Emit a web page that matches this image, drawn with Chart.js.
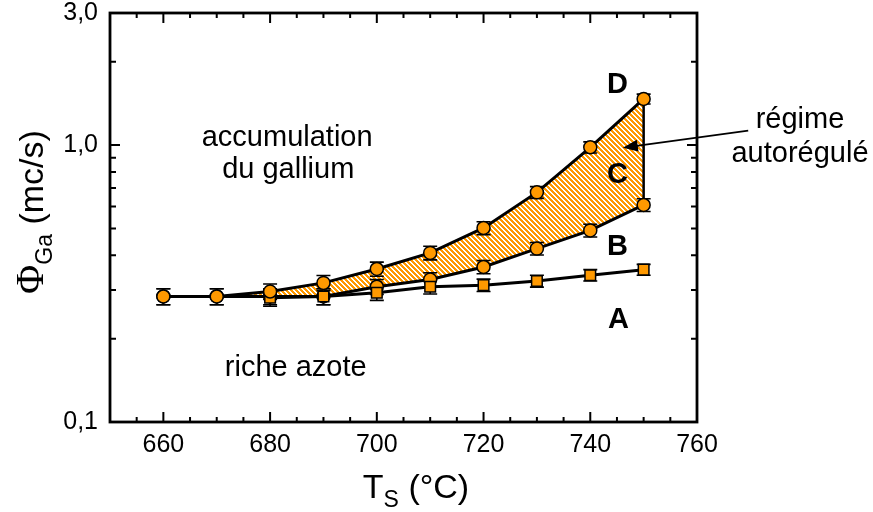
<!DOCTYPE html>
<html>
<head>
<meta charset="utf-8">
<script src="https://cdn.jsdelivr.net/npm/chart.js@4.4.0/dist/chart.umd.min.js"></script>
<style>
  html, body { margin: 0; padding: 0; background: #fff; }
  #wrap { width: 873px; height: 512px; }
</style>
</head>
<body>
<div id="wrap"><canvas id="fluxChart"></canvas></div>
<script>
// --- data ---
const TEMPS   = [660, 670, 680, 690, 700, 710, 720, 730, 740, 750];
const FLUX_D  = [0.284, 0.284, 0.296, 0.318, 0.357, 0.408, 0.502, 0.675, 0.982, 1.468];
const FLUX_B  = [0.284, 0.284, 0.284, 0.284, 0.308, 0.327, 0.363, 0.423, 0.492, 0.608];
const TEMPS_A = [680, 690, 700, 710, 720, 730, 740, 750];
const FLUX_A  = [0.281, 0.284, 0.293, 0.308, 0.312, 0.323, 0.339, 0.355];
// error bar half-heights (mc/s)
const ERR_D = [0.019, 0.019, 0.019, 0.02, 0.021, 0.023, 0.027, 0.033, 0.045, 0.06];
const ERR_B = [0.019, 0.019, 0.019, 0.019, 0.019, 0.019, 0.02, 0.022, 0.026, 0.032];
const ERR_A = [0.019, 0.019, 0.018, 0.018, 0.016, 0.016, 0.016, 0.016];

// --- axes ---
const X_LABELS = [660, 680, 700, 720, 740, 760];
const X_MINOR_STEP = 5;
const Y_TICKS = [0.1, 0.2, 0.3, 0.4, 0.5, 0.6, 0.7, 0.8, 0.9, 1, 2, 3];
const Y_LABEL_VALUES = [0.1, 1, 3];
const Y_LABELS = ['0,1', '1,0', '3,0'];

// --- annotations (data coordinates) ---
const REGION_TEXT = [
    { text: 'accumulation', x: 683.2, y: 0.99 },
    { text: 'du gallium', x: 683.4, y: 0.763 },
    { text: 'riche azote', x: 684.8, y: 0.146 },
    { text: 'régime', x: 779.3, y: 1.157 },
    { text: 'autorégulé', x: 779.3, y: 0.872 }
];
const CURVE_LETTERS = [
    { text: 'D', x: 745.1, y: 1.647 },
    { text: 'C', x: 745.1, y: 0.782 },
    { text: 'B', x: 745.1, y: 0.427 },
    { text: 'A', x: 745.3, y: 0.234 }
];
const ARROW = { from: [769.6, 1.128], to: [746.1, 0.979] };

const ORANGE = '#FF9900';
const FONT = "'Liberation Sans', Arial, sans-serif";

function zip(xs, ys) {
    return xs.map((x, i) => ({ x, y: ys[i] }));
}

// diagonal orange/white stripes
function makeHatch() {
    const n = 10, period = 5;
    const c = document.createElement('canvas');
    c.width = n; c.height = n;
    const g = c.getContext('2d');
    const img = g.createImageData(n, n);
    for (let y = 0; y < n; y++) {
        for (let x = 0; x < n; x++) {
            const k = (y * n + x) * 4;
            const on = ((x - y + 2 * n) % period) < 3;
            img.data[k] = 255;
            img.data[k + 1] = on ? 153 : 255;
            img.data[k + 2] = on ? 0 : 255;
            img.data[k + 3] = 255;
        }
    }
    g.putImageData(img, 0, 0);
    return g.createPattern(c, 'repeat');
}

const errorBars = {
    id: 'errorBars',
    beforeDatasetsDraw(chart) {
        const { ctx, scales: { x, y } } = chart;
        ctx.save();
        // closing edge of the self-regulated region
        ctx.strokeStyle = '#000';
        ctx.lineWidth = 2.5;
        const last = TEMPS.length - 1;
        ctx.beginPath();
        ctx.moveTo(x.getPixelForValue(TEMPS[last]), y.getPixelForValue(FLUX_D[last]));
        ctx.lineTo(x.getPixelForValue(TEMPS[last]), y.getPixelForValue(FLUX_B[last]));
        ctx.stroke();

        ctx.lineWidth = 1.6;
        const sets = [[TEMPS, FLUX_D, ERR_D], [TEMPS, FLUX_B, ERR_B], [TEMPS_A, FLUX_A, ERR_A]];
        sets.forEach(([xs, ys, es]) => {
            xs.forEach((t, i) => {
                const px = x.getPixelForValue(t);
                const lo = y.getPixelForValue(ys[i] - es[i]);
                const hi = y.getPixelForValue(ys[i] + es[i]);
                ctx.beginPath();
                ctx.moveTo(px, lo); ctx.lineTo(px, hi);
                ctx.moveTo(px - 7, lo); ctx.lineTo(px + 7, lo);
                ctx.moveTo(px - 7, hi); ctx.lineTo(px + 7, hi);
                ctx.stroke();
            });
        });
        ctx.restore();
    }
};

const frame = {
    id: 'frame',
    afterDraw(chart) {
        const { ctx, chartArea: a, scales: { x, y } } = chart;
        ctx.save();
        ctx.strokeStyle = '#000';

        // inward tick marks on all four sides
        ctx.lineWidth = 2;
        ctx.beginPath();
        for (let v = x.min; v <= x.max; v += X_MINOR_STEP) {
            const px = x.getPixelForValue(v);
            const len = X_LABELS.includes(v) ? 10 : 5;
            ctx.moveTo(px, a.bottom); ctx.lineTo(px, a.bottom - len);
            ctx.moveTo(px, a.top); ctx.lineTo(px, a.top + len);
        }
        Y_TICKS.forEach(v => {
            const py = y.getPixelForValue(v);
            const len = Y_LABEL_VALUES.includes(v) ? 10 : 6;
            ctx.moveTo(a.left, py); ctx.lineTo(a.left + len, py);
            ctx.moveTo(a.right, py); ctx.lineTo(a.right - len, py);
        });
        ctx.stroke();

        ctx.lineWidth = 2.8;
        ctx.strokeRect(a.left, a.top, a.right - a.left, a.bottom - a.top);

        // region labels
        ctx.fillStyle = '#000';
        ctx.textAlign = 'center';
        ctx.textBaseline = 'alphabetic';
        ctx.font = '29px ' + FONT;
        REGION_TEXT.forEach(t => ctx.fillText(t.text, x.getPixelForValue(t.x), y.getPixelForValue(t.y)));

        ctx.textBaseline = 'middle';
        ctx.font = 'bold 29px ' + FONT;
        CURVE_LETTERS.forEach(t => ctx.fillText(t.text, x.getPixelForValue(t.x), y.getPixelForValue(t.y)));

        // arrow to the region
        const x0 = x.getPixelForValue(ARROW.from[0]), y0 = y.getPixelForValue(ARROW.from[1]);
        const x1 = x.getPixelForValue(ARROW.to[0]), y1 = y.getPixelForValue(ARROW.to[1]);
        const ang = Math.atan2(y1 - y0, x1 - x0);
        ctx.lineWidth = 1.8;
        ctx.beginPath();
        ctx.moveTo(x0, y0);
        ctx.lineTo(x1 - 12 * Math.cos(ang), y1 - 12 * Math.sin(ang));
        ctx.stroke();
        ctx.beginPath();
        ctx.moveTo(x1, y1);
        ctx.lineTo(x1 - 15 * Math.cos(ang) + 6 * Math.sin(ang), y1 - 15 * Math.sin(ang) - 6 * Math.cos(ang));
        ctx.lineTo(x1 - 15 * Math.cos(ang) - 6 * Math.sin(ang), y1 - 15 * Math.sin(ang) + 6 * Math.cos(ang));
        ctx.closePath();
        ctx.fill();

        // axis titles with subscripts
        ctx.textAlign = 'left';
        ctx.textBaseline = 'alphabetic';
        const big = '34px ' + FONT, small = '23px ' + FONT;
        ctx.font = big;
        const wT = ctx.measureText('T').width, wRest = ctx.measureText(' (°C)').width;
        ctx.font = small;
        const wS = ctx.measureText('S').width;
        let tx = 416 - (wT + wS + wRest) / 2;
        const ty = 498;
        ctx.font = big; ctx.fillText('T', tx, ty); tx += wT;
        ctx.font = small; ctx.fillText('S', tx, ty + 9); tx += wS;
        ctx.font = big; ctx.fillText(' (°C)', tx, ty);

        ctx.translate(43, 212);
        ctx.rotate(-Math.PI / 2);
        const phiFont = "40px 'Liberation Serif', 'DejaVu Serif', serif";
        ctx.font = phiFont;
        const wPhi = ctx.measureText('Φ').width;
        ctx.font = small;
        const wGa = ctx.measureText('Ga').width;
        ctx.font = big;
        const wUnit = ctx.measureText(' (mc/s)').width;
        let sx = -(wPhi + wGa + wUnit) / 2;
        ctx.font = phiFont; ctx.fillText('Φ', sx, 0); sx += wPhi;
        ctx.font = small; ctx.fillText('Ga', sx, 9); sx += wGa;
        ctx.font = big; ctx.fillText(' (mc/s)', sx, 0);
        ctx.restore();
    }
};

const pointStyle = {
    borderColor: '#000',
    borderWidth: 3,
    pointBackgroundColor: ORANGE,
    pointBorderColor: '#000',
    pointBorderWidth: 1.5,
    tension: 0
};

new Chart(document.getElementById('fluxChart'), {
    type: 'line',
    data: {
        datasets: [
            { ...pointStyle, label: 'D', data: zip(TEMPS, FLUX_D), pointStyle: 'circle', pointRadius: 6.5,
              fill: 2, backgroundColor: makeHatch() },
            { ...pointStyle, label: 'A', data: zip(TEMPS_A, FLUX_A), pointStyle: 'rect', pointRadius: 7.5, fill: false },
            { ...pointStyle, label: 'B', data: zip(TEMPS, FLUX_B), pointStyle: 'circle', pointRadius: 6.5, fill: false }
        ]
    },
    options: {
        responsive: true,
        maintainAspectRatio: false,
        animation: false,
        layout: { padding: { left: 0, top: 13, right: 176, bottom: 0 } },
        plugins: {
            legend: { display: false },
            tooltip: { enabled: false },
            filler: { drawTime: 'beforeDatasetsDraw' }
        },
        scales: {
            x: {
                type: 'linear',
                min: 650,
                max: 760,
                grid: { display: false, drawTicks: false },
                border: { display: false },
                afterBuildTicks: s => { s.ticks = X_LABELS.map(v => ({ value: v })); },
                afterFit: s => { s.height = 90; s.paddingLeft = 0; s.paddingRight = 0; },
                ticks: {
                    autoSkip: false,
                    maxRotation: 0,
                    padding: 8,
                    color: '#000',
                    font: { family: FONT, size: 25 },
                    callback: v => String(v)
                }
            },
            y: {
                type: 'logarithmic',
                min: 0.1,
                max: 3,
                grid: { display: false, drawTicks: false },
                border: { display: false },
                afterBuildTicks: s => { s.ticks = Y_TICKS.map(v => ({ value: v })); },
                afterFit: s => { s.width = 110; s.paddingTop = 0; s.paddingBottom = 0; },
                ticks: {
                    autoSkip: false,
                    padding: 12,
                    color: '#000',
                    font: { family: FONT, size: 25 },
                    callback: v => {
                        const i = Y_LABEL_VALUES.indexOf(v);
                        return i >= 0 ? Y_LABELS[i] : '';
                    }
                }
            }
        }
    },
    plugins: [errorBars, frame]
});
</script>
</body>
</html>
